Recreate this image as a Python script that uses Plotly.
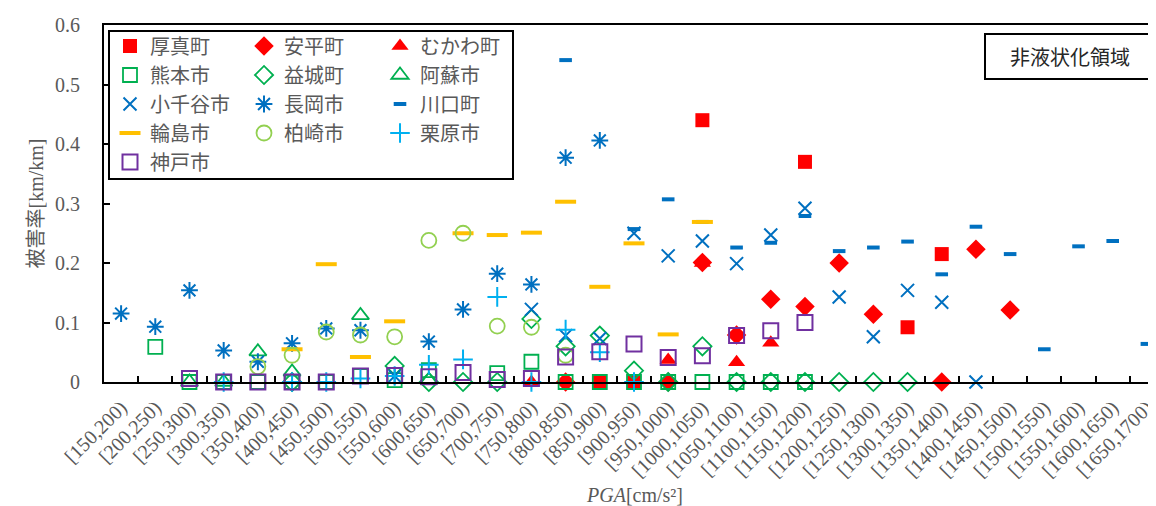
import plotly.graph_objects as go

# ---------------- data ----------------
categories = ["[150,200)", "[200,250)", "[250,300)", "[300,350)", "[350,400)", "[400,450)",
              "[450,500)", "[500,550)", "[550,600)", "[600,650)", "[650,700)", "[700,750)",
              "[750,800)", "[800,850)", "[850,900)", "[900,950)", "[950,1000)", "[1000,1050)",
              "[1050,1100)", "[1100,1150)", "[1150,1200)", "[1200,1250)", "[1250,1300)",
              "[1300,1350)", "[1350,1400)", "[1400,1450)", "[1450,1500)", "[1500,1550)",
              "[1550,1600)", "[1600,1650)", "[1650,1700)"]

N = None
atsuma     = [N, N, N, N, N, N, N, N, N, N, N, N, N, N, 0, 0, N, 0.44, N, N, 0.37, N, N, 0.092, 0.215, N, N, N, N, N, N]
abira      = [N, N, N, N, N, N, N, N, N, N, N, N, N, 0, N, N, 0, 0.201, 0.079, 0.139, 0.127, 0.2, 0.114, N, 0, 0.223, 0.121, N, N, N, N]
mukawa     = [N, N, N, N, N, N, N, N, N, N, N, N, 0, N, N, N, 0.037, 0.2, 0.033, 0.066, N, N, N, N, N, N, N, N, N, N, N]
kumamoto   = [N, 0.059, 0, 0, 0, 0, 0, 0.01, 0.003, 0.02, N, 0.015, 0.034, 0, 0, 0, 0, 0, 0, 0, 0, N, N, N, N, N, N, N, N, N, N]
mashiki    = [N, N, N, N, N, 0, N, N, 0.027, 0, 0, 0, 0.106, 0.06, 0.078, 0.019, 0, 0.06, 0, 0, 0, 0, 0, 0, N, N, N, N, N, N, N]
aso        = [N, N, 0, 0, 0.051, 0.017, N, 0.112, N, 0.003, N, N, N, N, N, N, N, N, N, N, N, N, N, N, N, N, N, N, N, N, N]
ojiya      = [N, N, N, N, N, N, N, N, N, N, N, N, 0.122, 0.078, 0.073, 0.25, 0.212, 0.237, 0.199, 0.247, 0.292, 0.143, 0.076, 0.154, 0.134, 0, N, N, N, N, N]
nagaoka    = [0.115, 0.093, 0.154, 0.053, 0.034, 0.065, 0.09, 0.087, 0.01, 0.068, 0.122, 0.182, 0.164, 0.377, 0.406, N, N, N, N, N, N, N, N, N, N, N, N, N, N, N, N]
kawaguchi  = [N, N, N, N, N, N, N, N, N, N, N, N, N, 0.541, N, 0.257, 0.307, 0.269, 0.226, 0.234, 0.279, 0.22, 0.226, 0.236, 0.181, 0.261, 0.215, 0.055, 0.228, 0.237, 0.064]
wajima     = [N, N, N, N, N, 0.055, 0.198, 0.042, 0.102, N, 0.25, 0.247, 0.251, 0.303, 0.16, 0.233, 0.08, 0.269, N, N, N, N, N, N, N, N, N, N, N, N, N]
kashiwazaki = [N, N, N, N, 0.026, 0.045, 0.084, 0.079, 0.076, 0.238, 0.25, 0.094, 0.092, 0.045, N, N, N, N, N, N, N, N, N, N, N, N, N, N, N, N, N]
kurihara   = [N, N, N, 0, N, 0, 0, 0.006, 0.01, 0.029, 0.038, 0.143, 0, 0.088, 0.05, 0, N, N, N, N, N, N, N, N, N, N, N, N, N, N, N]
kobe       = [N, N, 0.006, 0, 0, 0, 0, 0.01, 0.011, 0.009, 0.016, 0.004, 0.006, 0.042, 0.051, 0.064, 0.041, 0.044, 0.078, 0.086, 0.1, N, N, N, N, N, N, N, N, N, N]

series_names = ["厚真町", "安平町", "むかわ町", "熊本市", "益城町", "阿蘇市", "小千谷市", "長岡市",
                "川口町", "輪島市", "柏崎市", "栗原市", "神戸市"]
series_values = [atsuma, abira, mukawa, kumamoto, mashiki, aso, ojiya, nagaoka,
                 kawaguchi, wajima, kashiwazaki, kurihara, kobe]

x_title = "<i>PGA</i>[cm/s²]"
y_title = "被害率[km/km]"
note_text = "非液状化領域"

# ---------------- styles ----------------
RED, GREEN, BLUE = "#FF0000", "#00B050", "#0070C0"
styles = [
    dict(symbol="square", color=RED, size=14, lw=0),
    dict(symbol="diamond", color=RED, size=15, lw=0),
    dict(symbol="triangle-up", color=RED, size=15, lw=0),
    dict(symbol="square-open", color=GREEN, size=14, lw=1.8),
    dict(symbol="diamond-open", color=GREEN, size=14, lw=1.8),
    dict(symbol="triangle-up-open", color=GREEN, size=15, lw=1.8),
    dict(symbol="x-thin-open", color=BLUE, size=13, lw=2),
    dict(symbol="asterisk-open", color=BLUE, size=14, lw=2),
    dict(symbol="line-ew-open", color=BLUE, size=9, lw=4),
    dict(symbol="line-ew-open", color="#FFC000", size=15, lw=4),
    dict(symbol="circle-open", color="#92D050", size=15, lw=1.8),
    dict(symbol="cross-thin-open", color="#00B0F0", size=14, lw=2),
    dict(symbol="square-open", color="#7030A0", size=15, lw=2),
]

FONT = "Liberation Serif, Noto Sans CJK JP, serif"
CJK = "Noto Sans CJK JP, Liberation Serif, sans-serif"
GRAY = "#595959"

W, H = 1156, 506
ML, MR, MT, MB = 96, 0, 17, 132
PW, PH = W - ML - MR, H - MT - MB


def px2x(px):
    return (px - ML) / PW


def px2y(py):
    return (H - MB - py) / PH


fig = go.Figure()
legend_keys = ["legend", "legend2", "legend3"]
for k, (name, vals, st) in enumerate(zip(series_names, series_values, styles)):
    fig.add_trace(go.Scatter(
        x=categories, y=vals, name=name, mode="markers",
        legend=legend_keys[k % 3],
        marker=dict(symbol=st["symbol"], color=st["color"], size=st["size"],
                    line=dict(width=st["lw"], color=st["color"])),
        cliponaxis=False,
    ))

legend_common = dict(
    font=dict(family=CJK, size=20, color=GRAY),
    bgcolor="rgba(0,0,0,0)", borderwidth=0,
    orientation="v", xanchor="left", yanchor="top",
    tracegroupgap=0, traceorder="normal",
)
leg_top = px2y(18.5)
fig.update_layout(
    legend=dict(x=px2x(102), y=leg_top, **legend_common),
    legend2=dict(x=px2x(236), y=leg_top, **legend_common),
    legend3=dict(x=px2x(372), y=leg_top, **legend_common),
)

fig.update_xaxes(
    type="category", categoryorder="array", categoryarray=categories,
    range=[-0.5, len(categories) - 0.5],
    showline=True, linecolor="black", linewidth=2, mirror=True,
    ticks="inside", ticklen=6, tickwidth=1.5, tickcolor="black",
    tickson="boundaries",
    tickangle=-45, tickfont=dict(family=FONT, size=20, color=GRAY),
    showgrid=False, zeroline=False, ticklabelstandoff=4,
)
fig.update_yaxes(
    range=[0, 0.6], dtick=0.1, tick0=0,
    showline=True, linecolor="black", linewidth=2,
    ticks="inside", ticklen=6, tickwidth=1.5, tickcolor="black",
    tickfont=dict(family=FONT, size=20, color=GRAY),
    showgrid=False, zeroline=False, ticklabelstandoff=18,
)

fig.update_layout(
    width=W, height=H,
    margin=dict(l=ML, r=MR, t=MT, b=MB),
    paper_bgcolor="white", plot_bgcolor="white",
    shapes=[
        dict(type="rect", xref="paper", yref="paper",
             x0=px2x(101), x1=px2x(505), y0=px2y(171), y1=px2y(23),
             line=dict(color="black", width=2), fillcolor="rgba(0,0,0,0)", layer="above"),
        dict(type="rect", xref="paper", yref="paper",
             x0=px2x(977), x1=px2x(1146), y0=px2y(71), y1=px2y(26),
             line=dict(color="black", width=2), fillcolor="white", layer="above"),
    ],
    annotations=[
        dict(text=note_text, xref="paper", yref="paper", x=px2x(1061.5), y=px2y(48.5),
             xanchor="center", yanchor="middle", showarrow=False,
             font=dict(family=CJK, size=20, color="#262626")),
        dict(text=x_title, xref="paper", yref="paper", x=0.5, y=px2y(487),
             xanchor="center", yanchor="middle", showarrow=False,
             font=dict(family=FONT, size=20, color=GRAY)),
        dict(text=y_title, xref="paper", yref="paper", x=px2x(27), y=0.5,
             xanchor="center", yanchor="middle", showarrow=False, textangle=-90,
             font=dict(family=FONT, size=20, color=GRAY)),
    ],
    showlegend=True,
)

fig.write_html("out.html")
